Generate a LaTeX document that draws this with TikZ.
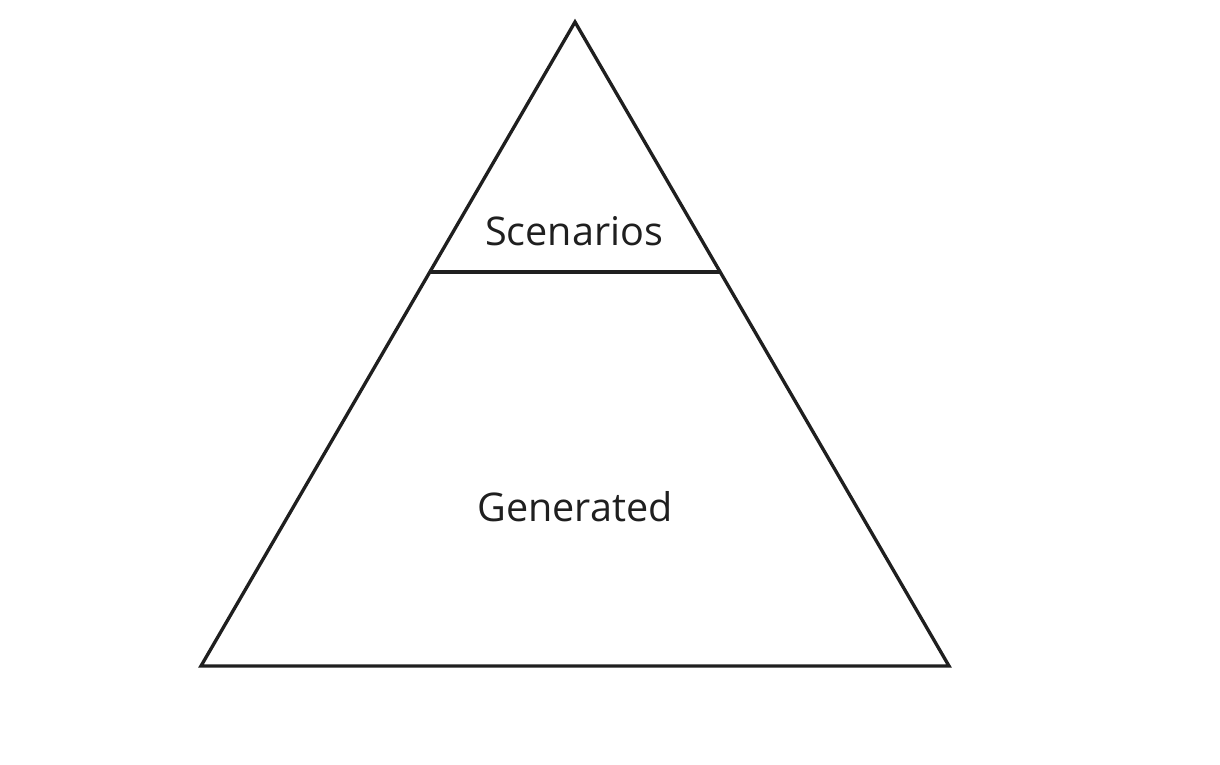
\documentclass[tikz,border=0pt]{standalone}
\usepackage{fontspec}
\setmainfont{Open Sans}
\usetikzlibrary{calc}

\begin{document}
\begin{tikzpicture}[
    x=0.02cm,y=-0.02cm,
    font=\fontsize{22.5}{27}\selectfont,
    edge/.style={draw=black!88,line width=1.9pt,line join=miter},
    layerlabel/.style={text=black!88,inner sep=0pt}
]
\useasboundingbox (0,0) rectangle (1220,764);
\coordinate (apex) at (575,22);
\coordinate (baseleft) at (201,666);
\coordinate (baseright) at (949,666);
\draw[edge] (apex) -- (baseright) -- (baseleft) -- cycle;
\coordinate (splitleft) at ($(apex)!0.388!(baseleft)$);
\coordinate (splitright) at ($(apex)!0.388!(baseright)$);
\draw[edge] (splitleft) -- (splitright);
\node[layerlabel] (scenarios) at (574,231) {Scenarios};
\node[layerlabel] (generated) at (575,507) {Generated};
\end{tikzpicture}
\end{document}
